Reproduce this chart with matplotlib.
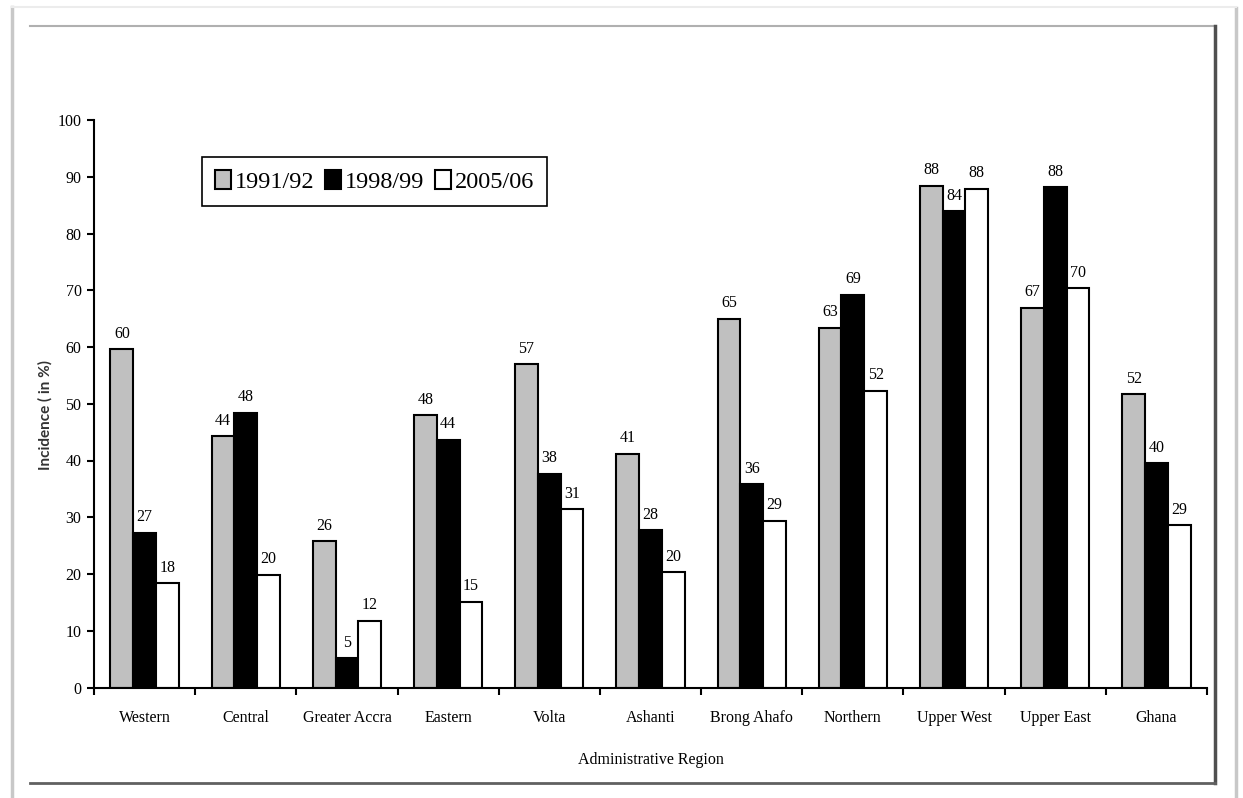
import numpy as np
import matplotlib
matplotlib.use("Agg")
import matplotlib.pyplot as plt
from matplotlib.lines import Line2D

plt.rcParams["font.family"] = ["Liberation Serif", "DejaVu Serif"]

regions = ["Western", "Central", "Greater Accra", "Eastern", "Volta", "Ashanti",
           "Brong Ahafo", "Northern", "Upper West", "Upper East", "Ghana"]
series_names = ["1991/92", "1998/99", "2005/06"]
inc_1991 = [59.6, 44.3, 25.8, 48.0, 57.0, 41.2, 65.0, 63.4, 88.4, 66.9, 51.7]
inc_1998 = [27.3, 48.4, 5.2, 43.7, 37.7, 27.7, 35.8, 69.2, 83.9, 88.2, 39.5]
inc_2005 = [18.4, 19.9, 11.8, 15.1, 31.4, 20.3, 29.4, 52.3, 87.9, 70.4, 28.6]
colors = ["#c0c0c0", "#000000", "#ffffff"]

W, H = 1243, 798
fig = plt.figure(figsize=(W / 100, H / 100), dpi=100)

# page frame
def px_line(x0, y0, x1, y1, **kw):
    fig.add_artist(Line2D([x0 / W, x1 / W], [1 - y0 / H, 1 - y1 / H],
                          transform=fig.transFigure, **kw))

px_line(12, 7, 12, 798, color="#c8c8c8", lw=2.5)
px_line(1236, 8, 1236, 798, color="#c8c8c8", lw=2.5)
px_line(12, 7, 1236, 7, color="#ececec", lw=1.5)
px_line(30, 26, 1215, 26, color="#b0b0b0", lw=1.5)
px_line(1215, 26, 1215, 783, color="#505050", lw=2.5)
px_line(30, 783, 1215, 783, color="#606060", lw=2)

ax = fig.add_axes([94 / W, 1 - 687.5 / H, (1207 - 94) / W, (687.5 - 120) / H])

x = np.arange(len(regions)) + 0.5
width = 0.225
handles = []
for k, (vals, c, name) in enumerate(zip([inc_1991, inc_1998, inc_2005], colors, series_names)):
    pos = x + (k - 1) * width
    b = ax.bar(pos, vals, width, color=c, edgecolor="black", linewidth=1.5, label=name)
    handles.append(b)
    for px_, v in zip(pos, vals):
        ax.text(px_, v + 1.3, f"{v:.0f}", ha="center", va="bottom", fontsize=11.5)

ax.set_xlim(0, len(regions))
ax.set_ylim(0, 100)
ax.set_yticks(np.arange(0, 101, 10))
ax.set_xticks(np.arange(0, len(regions) + 1))
ax.set_xticklabels([])
ax.set_xticks(x, minor=True)
ax.set_xticklabels(regions, minor=True)
ax.tick_params(axis="x", which="major", direction="out", length=5, width=1.5)
ax.tick_params(axis="x", which="minor", length=0, pad=16, labelsize=11.5)
ax.tick_params(axis="y", direction="out", length=5, width=1.5, pad=4, labelsize=11.5)
for s in ["top", "right"]:
    ax.spines[s].set_visible(False)
for s in ["left", "bottom"]:
    ax.spines[s].set_linewidth(1.5)

ax.set_xlabel("Administrative Region", fontsize=11.5, labelpad=19)
fig.text(45 / W, 1 - 415 / H, "Incidence ( in %)", rotation=90, ha="center", va="center",
         fontsize=11, family=["Lato", "DejaVu Sans"], fontweight="bold", color="#333333")

leg = ax.legend(handles=handles, loc="upper left", bbox_to_anchor=(0.097, 0.935), ncol=3,
                fontsize=17.5, handlelength=0.65, handleheight=0.8, handletextpad=0.15,
                columnspacing=0.45, borderpad=0.55, borderaxespad=0, fancybox=False,
                framealpha=1, edgecolor="black")
leg.get_frame().set_linewidth(1.2)

fig.savefig("out.png", dpi=100)
